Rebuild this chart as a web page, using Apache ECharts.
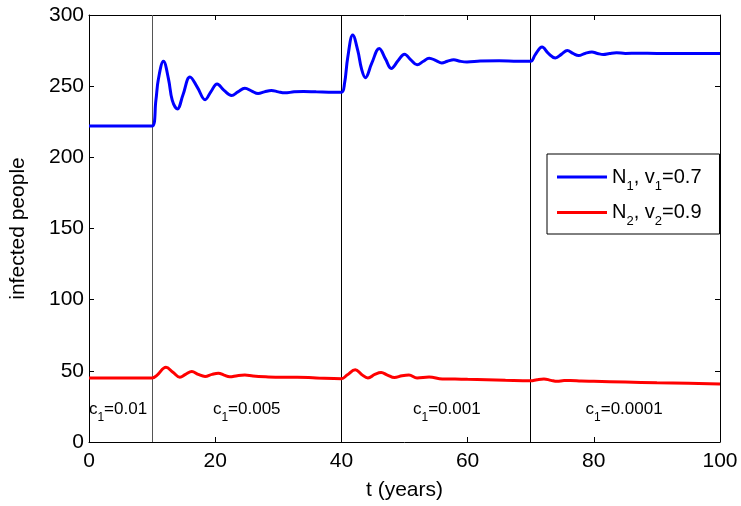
<!DOCTYPE html>
<html>
<head>
<meta charset="utf-8">
<script src="https://cdn.jsdelivr.net/npm/echarts@6/dist/echarts.min.js"></script>
<style>html,body{margin:0;padding:0;background:#fff;}#c{width:741px;height:506px;}</style>
</head>
<body>
<div id="c"></div>
<script>
// N1 (v1=0.7): [t, infected]
var n1Data = [[0,222],[10,222],[10.6,240],[11.0,255],[11.8,267.5],[12.6,255],[13.2,240],[14.0,234],[14.9,244],[16.0,256.5],[17.2,249],[18.4,240.5],[19.3,246],[20.3,251.5],[21.4,247],[22.6,243.5],[23.6,246],[24.7,248.5],[25.8,246.5],[26.8,244.8],[27.8,246],[28.9,247],[30,246],[31,245.3],[32.5,246],[34,246.3],[36,246],[38,245.8],[40,245.7],
[40.5,252],[41,270],[41.8,286],[42.6,275],[43.2,262],[43.8,256],[44.8,266],[46,276.5],[47,269],[47.9,262.5],[49,268],[50,272.5],[51,268.5],[52,265],[53,267.5],[53.9,269.7],[55,268],[55.9,266.3],[56.8,267.5],[57.8,268.5],[58.8,267.5],[59.9,267],[62,267.6],[65,267.8],[68,267.5],[70,267.5],
[70.7,272],[71.8,277.5],[72.8,273],[73.9,269.8],[74.9,272.5],[75.8,275],[76.7,273],[77.6,271.5],[78.6,273],[79.7,274],[80.6,273],[81.5,272.3],[82.5,273],[83.6,273.5],[85,273],[87,273.2],[90,273],[95,273],[100,273]];
// N2 (v2=0.9): [t, infected]
var n2Data = [[0,45],[10,45],[10.8,47],[12.2,52.5],[13.3,49],[14.4,45.5],[15.3,47.5],[16.3,49.5],[17.3,47.5],[18.4,46],[19.5,47.5],[20.5,48.3],[21.4,47],[22.3,45.8],[23.5,46.6],[24.7,47],[26,46.3],[28,45.8],[30.5,45.5],[33,45.5],[36,45],[40,44.5],
[40.9,47],[42.2,50.8],[43.2,47.5],[44.2,45],[45.3,47.5],[46.3,48.8],[47.3,47],[48.4,45.3],[49.6,46.5],[50.7,47],[52,45],[53.9,45.6],[56,44.3],[58,44.2],[60,44],[63,43.8],[66,43.4],[70,43],
[71,43.8],[72.1,44.3],[73.2,43.3],[74.2,42.6],[75.3,43.2],[76.3,43.2],[78,42.8],[80,42.6],[85,42.1],[90,41.6],[95,41.2],[100,40.8]];
// switch times of c1
var switchTimes = [10, 40, 70];
// region labels: [t, y, c1 value]
var regionLabels = [[4.6, 23, '0.01'], [25, 23, '0.005'], [56.7, 23, '0.001'], [84.8, 23, '0.0001']];
var xTicks = {min: 0, max: 100, interval: 20};
var yTicks = {min: 0, max: 300, interval: 50};

var FONT = 'Liberation Sans, Arial, sans-serif';
var chart = echarts.init(document.getElementById('c'));
var axisCommon = {
  axisLine: {show: true, onZero: false, lineStyle: {color: '#000', width: 1}},
  axisTick: {show: true, inside: true, length: 5, lineStyle: {color: '#000'}},
  splitLine: {show: false}
};
var rich = {
  n: {fontSize: 20, fontFamily: FONT, color: '#000'},
  s: {fontSize: 13, fontFamily: FONT, color: '#000', padding: [18, 0, 0, 0]}
};
var rich2 = {
  n: {fontSize: 17, fontFamily: FONT, color: '#000'},
  s: {fontSize: 12, fontFamily: FONT, color: '#000', padding: [16, 0, 0, 0]}
};
chart.setOption({
  animation: false,
  backgroundColor: '#fff',
  textStyle: {fontFamily: FONT},
  grid: {left: 87, right: 21, top: 15, bottom: 62, containLabel: false},
  legend: {
    left: 547, top: 154, orient: 'vertical',
    padding: [13, 18, 6, 10], itemGap: 10, itemWidth: 50, itemHeight: 3,
    borderColor: '#000', borderWidth: 1, backgroundColor: '#fff',
    icon: 'rect',
    data: ['N1', 'N2'],
    formatter: function (name) {
      if (name === 'N1') return '{n|N}{s|1}{n|, v}{s|1}{n|=0.7}';
      return '{n|N}{s|2}{n|, v}{s|2}{n|=0.9}';
    },
    textStyle: {rich: rich}
  },
  xAxis: [
    Object.assign({type: 'value', position: 'bottom', min: xTicks.min, max: xTicks.max, interval: xTicks.interval,
      name: 't (years)', nameLocation: 'middle', nameGap: 38,
      nameTextStyle: {fontSize: 21, color: '#000', fontFamily: FONT},
      axisLabel: {fontSize: 21, color: '#000', margin: 9, fontFamily: FONT}}, axisCommon),
    Object.assign({type: 'value', position: 'top', min: xTicks.min, max: xTicks.max, interval: xTicks.interval,
      axisLabel: {show: false}}, axisCommon)
  ],
  yAxis: [
    Object.assign({type: 'value', position: 'left', min: yTicks.min, max: yTicks.max, interval: yTicks.interval,
      name: 'infected people', nameLocation: 'middle', nameGap: 60, nameRotate: 90,
      nameTextStyle: {fontSize: 21, color: '#000', fontFamily: FONT},
      axisLabel: {fontSize: 21, color: '#000', margin: 5, fontFamily: FONT}}, axisCommon),
    Object.assign({type: 'value', position: 'right', min: yTicks.min, max: yTicks.max, interval: yTicks.interval,
      axisLabel: {show: false}}, axisCommon)
  ],
  series: [
    {
      name: 'N1', type: 'line', data: n1Data, showSymbol: false, smooth: 0.4,
      color: '#0000ff', lineStyle: {color: '#0000ff', width: 3}, z: 5,
      markLine: {
        silent: true, symbol: ['none', 'none'], label: {show: false},
        lineStyle: {color: '#000', width: 1, type: 'solid'},
        data: switchTimes.map(function (t, i) { return {xAxis: t, lineStyle: {color: i === 0 ? '#555' : '#000'}}; })
      }
    },
    {
      name: 'N2', type: 'line', data: n2Data, showSymbol: false, smooth: 0.4,
      color: '#ff0000', lineStyle: {color: '#ff0000', width: 3}, z: 5,
      markPoint: {
        silent: true, symbol: 'circle', symbolSize: 1, itemStyle: {color: 'rgba(0,0,0,0)'},
        label: {show: true, position: 'inside', rich: rich2,
          formatter: function (p) { return '{n|c}{s|1}{n|=' + p.data.value + '}'; }},
        data: regionLabels.map(function (r) { return {coord: [r[0], r[1]], value: r[2]}; })
      }
    }
  ]
});
</script>
</body>
</html>
